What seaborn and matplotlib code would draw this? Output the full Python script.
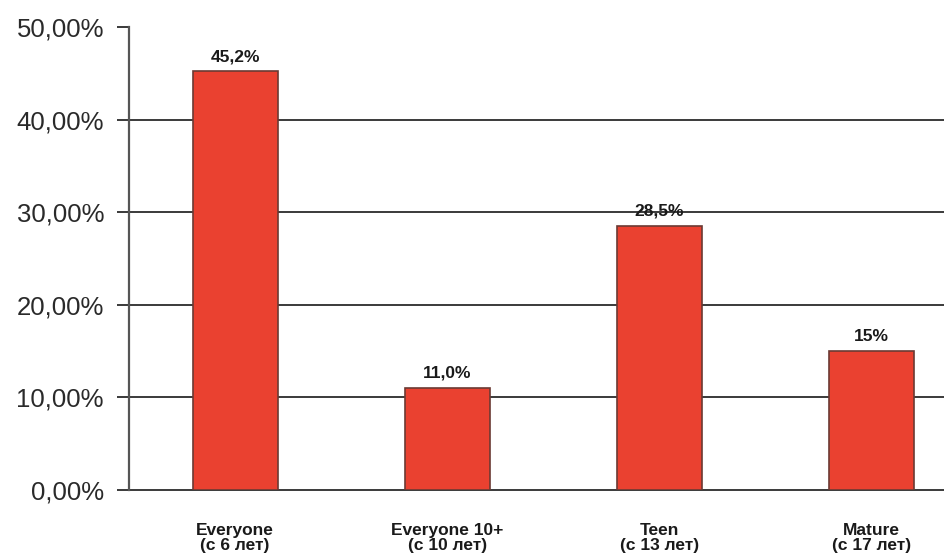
import matplotlib
matplotlib.use("Agg")
import matplotlib.pyplot as plt
import seaborn as sns
import pandas as pd

categories = ["Everyone\n(с 6 лет)", "Everyone 10+\n(с 10 лет)", "Teen\n(с 13 лет)", "Mature\n(с 17 лет)"]
values = [45.2, 11.0, 28.5, 15.0]
value_labels = ["45,2%", "11,0%", "28,5%", "15%"]
y_ticks = [0, 10, 20, 30, 40, 50]
y_tick_labels = ["0,00%", "10,00%", "20,00%", "30,00%", "40,00%", "50,00%"]

sns.set_theme(style="white")
plt.rcParams['font.family'] = ['Liberation Sans', 'DejaVu Sans']

df = pd.DataFrame({"cat": categories, "val": values})

fig = plt.figure(figsize=(9.44, 5.57), dpi=100)
ax = fig.add_axes([129/944, 1-490/557, 1-129/944, (490-27)/557])

sns.barplot(data=df, x="cat", y="val", ax=ax, color="#EA4130", saturation=1,
            width=0.4, edgecolor="#6b3a33", linewidth=1.2, zorder=3)

ax.set_xlim(-0.5, 3.34)
ax.set_ylim(0, 50)
ax.set_yticks(y_ticks)
ax.set_yticklabels(y_tick_labels, fontsize=18.5, color="#2a2a2a")
for y in y_ticks[:-1]:
    ax.axhline(y, color="#3a3a3a", linewidth=1.4, zorder=1, clip_on=False)
ax.tick_params(axis='y', left=True, length=9, width=1.4, color="#3a3a3a", pad=9)
ax.tick_params(axis='x', bottom=False, pad=18)
ax.set_xticks(range(len(categories)))
ax.set_xticklabels(categories, fontsize=12.5, fontweight='bold',
                   color="#1a1a1a", linespacing=0.95)
ax.set_xlabel("")
ax.set_ylabel("")
for s in ["top", "right", "bottom"]:
    ax.spines[s].set_visible(False)
ax.spines["left"].set_color("#555555")
ax.spines["left"].set_linewidth(1.6)

for i, (v, lab) in enumerate(zip(values, value_labels)):
    ax.text(i, v + 0.8, lab, ha='center', va='bottom', fontsize=12.5, fontweight='bold',
            color="#1a1a1a", zorder=5)

fig.savefig("out.png", dpi=100)
